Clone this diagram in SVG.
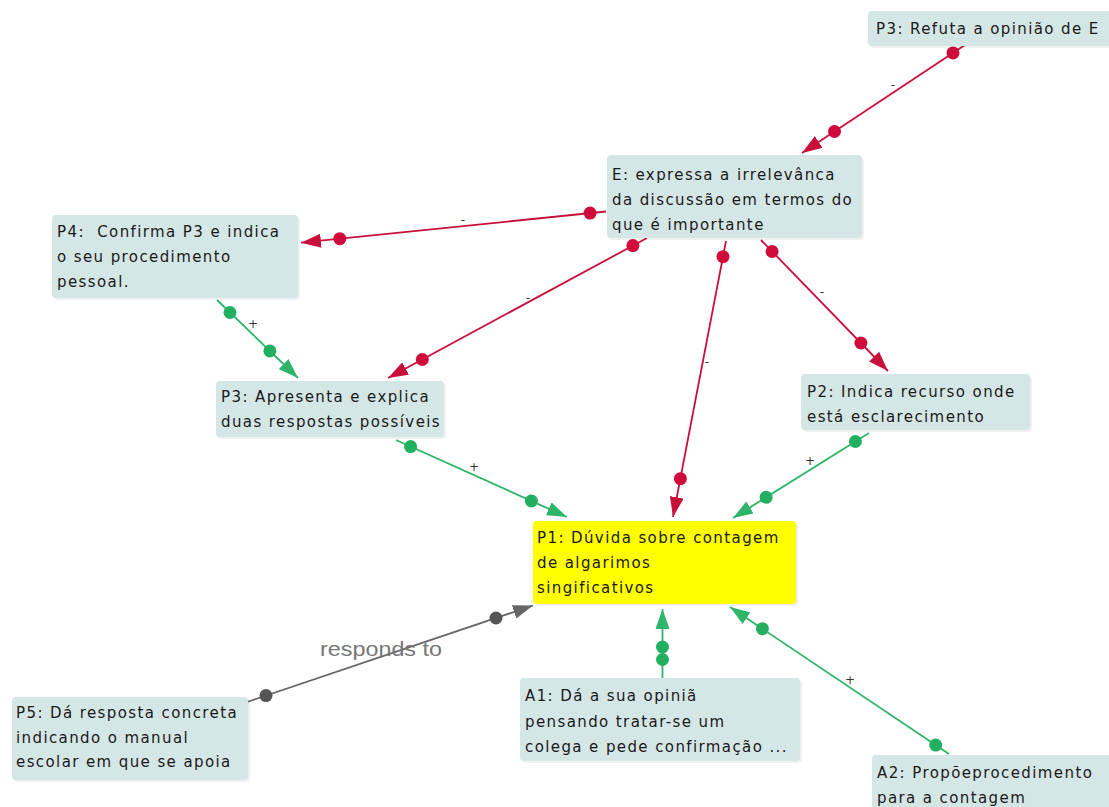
<svg xmlns="http://www.w3.org/2000/svg" width="1109" height="807" viewBox="0 0 1109 807">
  <defs>
    <marker id="ah-red" markerUnits="userSpaceOnUse" markerWidth="20" markerHeight="14" viewBox="0 0 20 14" refX="20" refY="7" orient="auto">
      <path d="M0,0 L20,7 L0,14 z" fill="#c8103c"/>
    </marker>
    <marker id="ah-green" markerUnits="userSpaceOnUse" markerWidth="20" markerHeight="14" viewBox="0 0 20 14" refX="20" refY="7" orient="auto">
      <path d="M0,0 L20,7 L0,14 z" fill="#2fb56a"/>
    </marker>
    <marker id="ah-gray" markerUnits="userSpaceOnUse" markerWidth="20" markerHeight="14" viewBox="0 0 20 14" refX="20" refY="7" orient="auto">
      <path d="M0,0 L20,7 L0,14 z" fill="#666666"/>
    </marker>
  </defs>
  <style>
    .box { fill: #d5e6e6; }
    .hot { fill: #ffff00; }
    .shadow { fill: #000; opacity: 0.06; }
    .txt { font-family: "DejaVu Sans", Verdana, sans-serif; font-size: 15px; letter-spacing: 1.4px; fill: #1a1a1a; }
    .red { stroke: #c8103c; stroke-width: 1.8; fill: none; marker-end: url(#ah-red); }
    .green { stroke: #2fb56a; stroke-width: 1.8; fill: none; marker-end: url(#ah-green); }
    .gray { stroke: #666666; stroke-width: 1.8; fill: none; marker-end: url(#ah-gray); }
    .rdot { fill: #d10a3c; }
    .gdot { fill: #22b060; }
    .kdot { fill: #555555; }
    .lbl { font-family: "DejaVu Sans", Verdana, sans-serif; font-size: 12px; fill: #333; text-anchor: middle; }
    .rel { font-family: "Liberation Sans", Arial, sans-serif; font-size: 21px; fill: #777; }
  </style>

  <rect width="1109" height="807" fill="#ffffff"/>

  <!-- connectors -->
  <g id="connectors">
    <!-- P3 refutes E -->
    <line class="red" x1="968" y1="43" x2="802" y2="153"/>
    <circle class="rdot" cx="953" cy="52.9" r="6.5"/>
    <circle class="rdot" cx="834.5" cy="131.5" r="6.5"/>
    <text class="lbl" x="893" y="89">-</text>

    <!-- E to P4 -->
    <line class="red" x1="606" y1="211.5" x2="301" y2="242.7"/>
    <circle class="rdot" cx="590.1" cy="213.1" r="6.5"/>
    <circle class="rdot" cx="339.8" cy="238.7" r="6.5"/>
    <text class="lbl" x="463" y="224">-</text>

    <!-- E to P3 (apresenta) -->
    <line class="red" x1="647" y1="238" x2="388" y2="378"/>
    <circle class="rdot" cx="632.9" cy="245.6" r="6.5"/>
    <circle class="rdot" cx="422.3" cy="359.5" r="6.5"/>
    <text class="lbl" x="528" y="302">-</text>

    <!-- E to P1 -->
    <line class="red" x1="726" y1="241" x2="673" y2="517"/>
    <circle class="rdot" cx="723" cy="256.7" r="6.5"/>
    <circle class="rdot" cx="680.4" cy="478.7" r="6.5"/>
    <text class="lbl" x="707" y="366">-</text>

    <!-- E to P2 -->
    <line class="red" x1="761" y1="240" x2="888" y2="371"/>
    <circle class="rdot" cx="772.1" cy="251.5" r="6.5"/>
    <circle class="rdot" cx="860.9" cy="343" r="6.5"/>
    <text class="lbl" x="822" y="296">-</text>

    <!-- P4 to P3 (apresenta) -->
    <line class="green" x1="217" y1="300" x2="298" y2="378"/>
    <circle class="gdot" cx="230" cy="312.5" r="6.5"/>
    <circle class="gdot" cx="269.9" cy="350.9" r="6.5"/>
    <text class="lbl" x="253" y="328">+</text>

    <!-- P3 (apresenta) to P1 -->
    <line class="green" x1="396" y1="440" x2="567" y2="517"/>
    <circle class="gdot" cx="410.6" cy="446.6" r="6.5"/>
    <circle class="gdot" cx="531.4" cy="501" r="6.5"/>
    <text class="lbl" x="474" y="471">+</text>

    <!-- P2 to P1 -->
    <line class="green" x1="869" y1="433" x2="733" y2="518"/>
    <circle class="gdot" cx="855.4" cy="441.5" r="6.5"/>
    <circle class="gdot" cx="766.1" cy="497.3" r="6.5"/>
    <text class="lbl" x="810" y="465">+</text>

    <!-- A1 to P1 -->
    <line class="green" x1="662.5" y1="678" x2="662.5" y2="609"/>
    <circle class="gdot" cx="662.5" cy="659.5" r="6.5"/>
    <circle class="gdot" cx="662.5" cy="647" r="6.5"/>

    <!-- A2 to P1 -->
    <line class="green" x1="949" y1="754" x2="730" y2="607"/>
    <circle class="gdot" cx="935.7" cy="745.1" r="6.5"/>
    <circle class="gdot" cx="762.4" cy="628.7" r="6.5"/>
    <text class="lbl" x="850" y="684">+</text>

    <!-- P5 responds to P1 -->
    <line class="gray" x1="247" y1="702" x2="533" y2="605.5"/>
    <circle class="kdot" cx="266" cy="695.6" r="6.5"/>
    <circle class="kdot" cx="496" cy="618" r="6.5"/>
    <text class="rel" x="320" y="656" textLength="122" lengthAdjust="spacingAndGlyphs">responds to</text>
  </g>

  <!-- nodes -->
  <g id="node-p3-refuta">
    <rect class="shadow" x="870" y="13" width="250" height="35" rx="4"/>
    <rect class="box" x="868" y="11" width="250" height="35" rx="4"/>
    <text class="txt" x="876" y="34">P3: Refuta a opinião de E</text>
  </g>

  <g id="node-e">
    <rect class="shadow" x="609" y="157" width="255" height="83" rx="4"/>
    <rect class="box" x="607" y="155" width="255" height="83" rx="4"/>
    <text class="txt" x="612" y="180">E: expressa a irrelevânca</text>
    <text class="txt" x="612" y="205">da discussão em termos do</text>
    <text class="txt" x="612" y="230">que é importante</text>
  </g>

  <g id="node-p4">
    <rect class="shadow" x="54" y="217" width="246" height="83" rx="4"/>
    <rect class="box" x="52" y="215" width="246" height="83" rx="4"/>
    <text class="txt" x="57" y="237" xml:space="preserve">P4:  Confirma P3 e indica</text>
    <text class="txt" x="57" y="262">o seu procedimento</text>
    <text class="txt" x="57" y="287">pessoal.</text>
  </g>

  <g id="node-p3-apresenta">
    <rect class="shadow" x="218" y="383" width="228" height="56" rx="4"/>
    <rect class="box" x="216" y="381" width="228" height="56" rx="4"/>
    <text class="txt" x="221" y="402">P3: Apresenta e explica</text>
    <text class="txt" x="221" y="427">duas respostas possíveis</text>
  </g>

  <g id="node-p2">
    <rect class="shadow" x="803" y="376" width="229" height="56" rx="4"/>
    <rect class="box" x="801" y="374" width="229" height="56" rx="4"/>
    <text class="txt" x="807" y="397">P2: Indica recurso onde</text>
    <text class="txt" x="807" y="422">está esclarecimento</text>
  </g>

  <g id="node-p1">
    <rect class="shadow" x="535" y="523" width="263" height="83" rx="4"/>
    <rect class="hot" x="533" y="521" width="263" height="83" rx="4"/>
    <text class="txt" x="537" y="543">P1: Dúvida sobre contagem</text>
    <text class="txt" x="537" y="568">de algarimos</text>
    <text class="txt" x="537" y="593">singificativos</text>
  </g>

  <g id="node-a1">
    <rect class="shadow" x="522" y="680" width="280" height="83" rx="4"/>
    <rect class="box" x="520" y="678" width="280" height="83" rx="4"/>
    <text class="txt" x="525" y="701">A1: Dá a sua opiniã</text>
    <text class="txt" x="525" y="727">pensando tratar-se um</text>
    <text class="txt" x="525" y="752">colega e pede confirmação ...</text>
  </g>

  <g id="node-p5">
    <rect class="shadow" x="14" y="699" width="236" height="83" rx="4"/>
    <rect class="box" x="12" y="697" width="236" height="83" rx="4"/>
    <text class="txt" x="16" y="718">P5: Dá resposta concreta</text>
    <text class="txt" x="16" y="743">indicando o manual</text>
    <text class="txt" x="16" y="767">escolar em que se apoia</text>
  </g>

  <g id="node-a2">
    <rect class="shadow" x="874" y="757" width="250" height="60" rx="4"/>
    <rect class="box" x="872" y="755" width="250" height="60" rx="4"/>
    <text class="txt" x="877" y="778">A2: Propõeprocedimento</text>
    <text class="txt" x="877" y="803">para a contagem</text>
  </g>
</svg>
